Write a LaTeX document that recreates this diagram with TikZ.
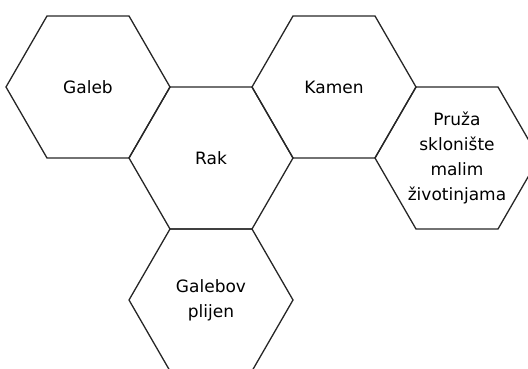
\documentclass[tikz,border=0pt]{standalone}
\usepackage{fontspec}
\setmainfont{DejaVu Sans}
\usetikzlibrary{shapes.geometric}

\begin{document}
\begin{tikzpicture}[
  x=1pt, y=-1pt,
  hexa/.style={
    regular polygon, regular polygon sides=6, draw=black!85,
    line width=1.3pt, minimum size=164pt, inner sep=0pt,
    align=center, font=\fontsize{17}{25}\selectfont
  }
]
\useasboundingbox (0,0) rectangle (528,369);

% upper row of cells
\node[hexa] (galeb) at (88,87) {Galeb};
\node[hexa] (kamen) at (334,87) {Kamen};

% middle row
\node[hexa] (rak) at (211,158) {Rak};
\node[hexa] (skloniste) at (457,158) {Pruža\\sklonište\\malim\\životinjama};

% bottom cell
\node[hexa] (plijen) at (211,300) {Galebov\\plijen};

\end{tikzpicture}
\end{document}
